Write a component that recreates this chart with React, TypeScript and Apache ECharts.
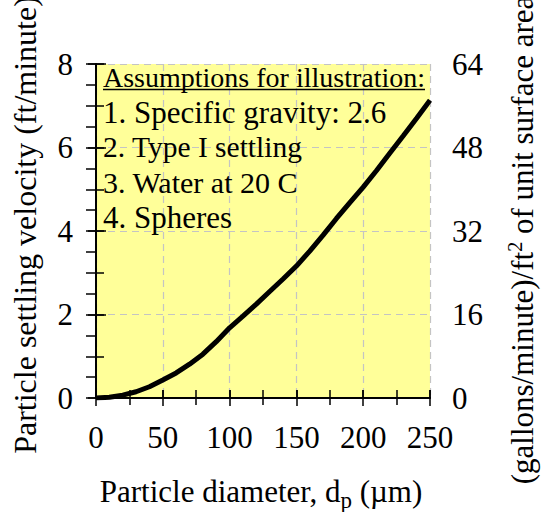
import React, { useEffect, useRef } from "react";
import * as echarts from "echarts";

const diameters = [0, 10, 20, 30, 40, 50, 60, 70, 80, 90, 100, 110, 120, 130, 140, 150, 160, 170, 180, 190, 200, 210, 220, 230, 240, 250];
const velocities = [0, 0.017, 0.068, 0.15, 0.27, 0.43, 0.6, 0.81, 1.05, 1.35, 1.68, 1.96, 2.25, 2.55, 2.85, 3.16, 3.52, 3.9, 4.3, 4.68, 5.05, 5.45, 5.87, 6.28, 6.7, 7.13];
const xTicks = { min: 0, max: 250, interval: 50 };
const yLeftTicks = { min: 0, max: 8, interval: 2 };
const yRightTicks = { min: 0, max: 64, interval: 16 };
const assumptions = [
  "Assumptions for illustration:",
  "1. Specific gravity: 2.6",
  "2. Type I settling",
  "3. Water at 20 C",
  "4. Spheres",
];

const FONT = "Liberation Serif, serif";
const BLACK = "#000";
const FS = 31;
const NOTE_SIZES = [28, 31, 29.5, 30, 31];

export default function App() {
  const ref = useRef<HTMLDivElement>(null);
  useEffect(() => {
    if (!ref.current) return;
    const chart = echarts.init(ref.current, undefined, { renderer: "svg" });
    const line = { color: BLACK, width: 1.5 };
    const lbl = { fontFamily: FONT, fontSize: FS, color: BLACK };
    const xBase = { type: "value", ...xTicks, gridIndex: 0 };
    const yLBase = { type: "value", ...yLeftTicks, gridIndex: 0 };
    const yRBase = { type: "value", ...yRightTicks, gridIndex: 0 };
    const off = { show: false };
    chart.setOption({
      animation: false,
      backgroundColor: "#fff",
      grid: { left: 96, right: 115, top: 64, bottom: 114, show: true, backgroundColor: "#ffff99", borderWidth: 0 },
      xAxis: [
        {
          ...xBase, position: "bottom",
          axisLine: { show: true, lineStyle: line },
          axisTick: { show: true, inside: false, length: 8, lineStyle: line },
          axisLabel: { ...lbl, margin: 24 },
          splitLine: { show: true, lineStyle: { color: "#c4c4c4", width: 1.2, type: [7, 5] } },
        },
        {
          ...xBase, position: "bottom",
          axisLine: { show: true, lineStyle: line },
          axisTick: { show: true, inside: true, length: 8, lineStyle: line },
          minorTick: { show: true, splitNumber: 2, length: 8, lineStyle: line },
          axisLabel: off, splitLine: off,
        },
        {
          ...xBase, position: "top",
          axisLine: { show: true, lineStyle: line },
          axisTick: { show: true, inside: false, length: 8, lineStyle: line },
          axisLabel: off, splitLine: off,
        },
        {
          ...xBase, position: "top",
          axisLine: { show: true, lineStyle: line },
          axisTick: { show: false, inside: true },
          minorTick: { show: true, splitNumber: 2, length: 7, lineStyle: line },
          axisLabel: off, splitLine: off,
        },
      ],
      yAxis: [
        {
          ...yLBase, position: "left",
          axisLine: { show: true, lineStyle: line },
          axisTick: { show: true, inside: false, length: 8, lineStyle: line },
          axisLabel: { ...lbl, margin: 23 },
          splitLine: { show: true, lineStyle: { color: "#c4c4c4", width: 1.2, type: [7, 5] } },
        },
        {
          ...yLBase, position: "left",
          axisLine: { show: true, lineStyle: line },
          axisTick: { show: true, inside: true, length: 8, lineStyle: line },
          minorTick: { show: true, splitNumber: 2, length: 8, lineStyle: line },
          axisLabel: off, splitLine: off,
        },
        {
          ...yRBase, position: "right",
          axisLine: { show: true, lineStyle: line },
          axisTick: { show: true, inside: false, length: 10, lineStyle: line },
          axisLabel: { ...lbl, margin: 22 },
          splitLine: off,
        },
        {
          ...yRBase, position: "right",
          axisLine: { show: true, lineStyle: line },
          axisTick: { show: true, inside: true, length: 10, lineStyle: line },
          minorTick: { show: true, splitNumber: 4, length: 10, lineStyle: line },
          axisLabel: off, splitLine: off,
        },
      ],
      series: [
        {
          type: "line",
          xAxisIndex: 0,
          yAxisIndex: 0,
          data: diameters.map((d, i) => [d, velocities[i]]),
          showSymbol: false,
          symbol: "none",
          lineStyle: { color: BLACK, width: 5 },
          z: 5,
        },
      ],
      graphic: [
        ...assumptions.map((t, i) => ({
          type: "text",
          x: 103,
          y: 77 + i * 35,
          z: 10,
          style: { text: t, fontFamily: FONT, fontSize: NOTE_SIZES[i], fill: BLACK, align: "left", verticalAlign: "middle" },
        })),
        {
          type: "line",
          z: 10,
          shape: { x1: 103, y1: 89.5, x2: 425, y2: 89.5 },
          style: { stroke: BLACK, lineWidth: 1.3 },
        },
        {
          type: "text",
          x: 261,
          y: 491,
          style: {
            text: "Particle diameter, d{sub|p} (µm)",
            fontFamily: FONT,
            fontSize: FS,
            fill: BLACK,
            align: "center",
            verticalAlign: "middle",
            rich: { sub: { fontSize: 23, fontFamily: FONT, padding: [18, 0, 0, 0] } },
          },
        },
        {
          type: "text",
          x: 25,
          y: 225,
          rotation: Math.PI / 2,
          style: {
            text: "Particle settling velocity (ft/minute)",
            fontFamily: FONT,
            fontSize: 32,
            fill: BLACK,
            align: "center",
            verticalAlign: "middle",
          },
        },
        {
          type: "text",
          x: 522,
          y: 240,
          rotation: Math.PI / 2,
          style: {
            text: "(gallons/minute)/ft{sup|2} of unit surface area",
            fontFamily: FONT,
            fontSize: FS,
            fill: BLACK,
            align: "center",
            verticalAlign: "middle",
            rich: { sup: { fontSize: 20, fontFamily: FONT, padding: [0, 0, 14, 0] } },
          },
        },
      ],
    });
    return () => chart.dispose();
  }, []);
  return <div ref={ref} style={{ position: "fixed", left: 0, top: 0, width: 545, height: 512 }} />;
}
